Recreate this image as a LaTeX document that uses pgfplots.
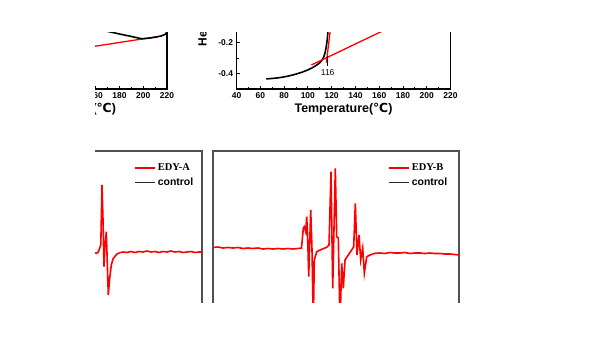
\documentclass[border=0pt]{standalone}
\usepackage{pgfplots}
\pgfplotsset{compat=1.18}
\usepackage{fontspec}
\setmainfont{Liberation Sans}
\newfontfamily\serifb{Liberation Serif}
\newfontfamily\dejavu{DejaVu Sans}
\newcommand{\degC}{{\dejavu ℃}}
\definecolor{frame}{RGB}{80,80,80}
\definecolor{ctrl}{RGB}{40,40,40}
\pgfplotsset{
  dsc/.style={scale only axis, width=214bp, height=77.5bp,
    xmin=40, xmax=220, ymin=-0.5, ymax=0.0,
    axis line style={line width=1.2bp, black},
    tick align=inside, xtick pos=bottom, ytick pos=left,
    xtick={40,60,...,220}, minor x tick num=1,
    ytick={-0.4,-0.2}, minor y tick num=1,
    major tick length=3bp, minor tick length=2bp,
    tick style={black, line width=0.8bp},
    ticklabel style={font=\fontsize{8.5}{10}\selectfont\bfseries},
    /pgf/number format/assume math mode=true,
    yticklabel style={/pgf/number format/fixed, /pgf/number format/precision=1, /pgf/number format/fixed zerofill},
    xlabel={Temperature(\degC)},
    xlabel style={font=\fontsize{12.5}{14}\selectfont\bfseries, yshift=2bp},
  },
  epr/.style={scale only axis, width=246bp, height=184bp,
    ymin=-85, ymax=99, ticks=none,
    axis line style={line width=1.3bp, frame},
    legend image code/.code={\draw[##1] (0bp,0bp) -- (20bp,0bp);},
    legend style={draw=none, fill=none, inner sep=0pt, row sep=3bp,
      nodes={inner xsep=2.5bp, inner ysep=1.5bp},
      font=\fontsize{10.5}{12}\selectfont\bfseries, cells={anchor=west}},
  },
}
\begin{document}
\begin{tikzpicture}[x=1bp,y=1bp]
\fill[white] (0,0) rectangle (600,338);
\useasboundingbox (0,0) rectangle (600,338);
\begin{scope}
\clip (95,36) rectangle (462,306);

% ---- top-left DSC panel
\begin{axis}[dsc, at={(-47bp,249bp)}, anchor=south west, xlabel style={xshift=7bp}]
\addplot[red, line width=1.3bp] coordinates {(140,-0.247) (211.3,-0.163)};
\addplot[black, line width=1.6bp] coordinates {
(155,-0.103) (169.3,-0.127) (180,-0.145) (190,-0.161) (198.7,-0.176)
(205,-0.172) (211.3,-0.164) (215,-0.158) (218.3,-0.148) (219.5,-0.138) (220,-0.128)};
\end{axis}

% ---- top-middle DSC panel
\begin{axis}[dsc, at={(236.5bp,249bp)}, anchor=south west]
\addplot[black, line width=1.6bp] coordinates {
(65,-0.435) (70,-0.432) (75,-0.428) (80,-0.422) (85,-0.414) (90,-0.404)
(95,-0.392) (100,-0.377) (104,-0.362) (107,-0.348) (110,-0.331) (112,-0.313)
(113.5,-0.291) (114.5,-0.266) (115.3,-0.236) (116,-0.200) (116.6,-0.160) (117.2,-0.100)};
\addplot[red, line width=1.3bp] coordinates {(103,-0.345) (165,-0.118)};
\addplot[red, line width=1.3bp] coordinates {(115.6,-0.33) (119.2,-0.100)};
\addplot[black, line width=0.9bp] coordinates {(116.5,-0.288) (116.5,-0.352)};
\node[font=\fontsize{8.5}{10}\selectfont] at (axis cs:116.7,-0.392) {116};
\end{axis}
\node[rotate=90, anchor=west, font=\fontsize{12}{14}\selectfont\bfseries] at (203.5,288) {Heat Flow(W/g)};

% ---- bottom-left EPR panel (EDY-A)
\begin{axis}[epr, at={(-44bp,187bp)}, anchor=north west, xmin=-44, xmax=202,
  legend style={at={(axis cs:133.5,88)}, anchor=north west}]
\addplot[red, line width=1.6bp] coordinates {
(-40,-2.5) (0,-2) (40,-3) (80,-2.5) (95,-3) (96.3,-3.3) (98,-2.5) (99.7,1.7) (100.8,5)
(102,65) (103,30) (104,-16.7) (105,5) (106.3,18.3) (107.2,-10) (108.3,-45)
(109.5,-30) (111.3,-15) (113,-9) (114.7,-6.7) (117,-4) (119.7,-2.7) (123,-2)
(127,-2.5) (131,-1.5) (135,-2.5) (139,-1.5) (143,-2) (147,-1) (151,-2)
(155,-1.5) (159,-2.5) (163,-1.5) (167,-2) (171,-1) (175,-2) (179,-1.5)
(183,-2.5) (187,-2) (191,-1.5) (195,-2.5) (199,-2) (202,-2)};
\addlegendentry{{\serifb EDY-A}}
\addlegendimage{ctrl, line width=1.6bp, solid}
\addlegendentry{control}
\end{axis}

% ---- bottom-right EPR panel (EDY-B)
\begin{axis}[epr, at={(213bp,187bp)}, anchor=north west, xmin=213, xmax=459,
  legend style={at={(axis cs:387.5,88)}, anchor=north west}]
\addplot[red, line width=1.6bp] coordinates {
(213,2.5) (218,3) (223,2) (228,2.5) (233,2) (238,2.5) (243,1.5) (248,2)
(253,1.5) (258,2) (263,1) (268,1.5) (273,1) (278,1.5) (283,1) (288,1.5)
(293,1) (298,1.5) (301.5,2) (303.3,21.7) (304.3,23.3) (305.7,18.3)
(306.7,33.3) (307.7,11.7) (308.7,-26.7) (310.7,40) (312,0) (313.3,-75)
(314.3,-10) (316.7,-1.7) (321.7,0.7) (326.7,2.7) (329,5) (331,78.3)
(332.7,-38.3) (335.3,81.7) (336.7,13.3) (338.3,12) (340,-75) (341.7,-13.3)
(343.3,-38.3) (345,-10) (348.3,-5) (351.7,0) (353.7,3.3) (355.3,46.7)
(357,-5) (359,15) (360.7,-10) (362.7,2) (364.3,-23.3) (366.7,-6.7) (370,-5)
(375,-3.3) (380,-3) (385,-3.5) (390,-2.5) (395,-3) (400,-3) (405,-2.5)
(410,-3.5) (415,-3) (420,-3) (425,-3.5) (430,-3) (435,-3.5) (440,-3.5)
(445,-4) (450,-4) (455,-4.5) (459,-5)};
\addlegendentry{{\serifb EDY-B}}
\addlegendimage{ctrl, line width=1.6bp, solid}
\addlegendentry{control}
\end{axis}
\end{scope}
\end{tikzpicture}
\end{document}
